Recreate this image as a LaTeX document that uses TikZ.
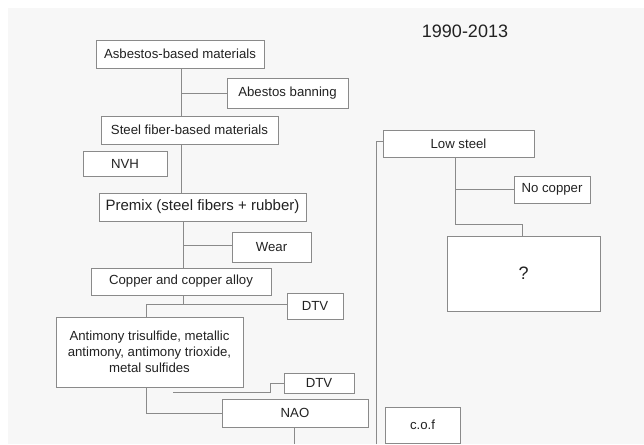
\documentclass[tikz,border=0pt]{standalone}
\usepackage{fontspec}
\setmainfont{Liberation Sans}
\definecolor{bg}{HTML}{F7F7F7}
\definecolor{ln}{HTML}{8A8A8A}
\definecolor{tx}{HTML}{222222}
\begin{document}
\begin{tikzpicture}[x=1pt,y=-1pt,
  box/.style={draw=ln, fill=white, line width=0.9pt, inner sep=0pt, text=tx,
    font=\fontsize{13.2}{16}\selectfont, align=center},
  wire/.style={draw=ln, line width=0.9pt}]
\useasboundingbox (0,0) rectangle (644,444);
\fill[white] (0,0) rectangle (644,444);
\fill[bg] (8,8) rectangle (644,444);

\node[text=tx, font=\fontsize{18}{20}\selectfont] (title) at (465,31) {1990-2013};

\node[box, minimum width=168pt, minimum height=28pt] (asb) at (180,54) {Asbestos-based materials};
\node[box, minimum width=121pt, minimum height=30pt] (ban) at (287.5,93) {Abestos banning};
\node[box, minimum width=177pt, minimum height=28pt] (steel) at (189.5,130) {Steel fiber-based materials};
\node[box, minimum width=84pt, minimum height=25pt] (nvh) at (125,163.5) {NVH};
\node[box, minimum width=207pt, minimum height=28pt, font=\fontsize{15}{18}\selectfont] (premix) at (202.5,207) {Premix (steel fibers + rubber)};
\node[box, minimum width=79pt, minimum height=30pt] (wear) at (271.5,247) {Wear};
\node[box, minimum width=180pt, minimum height=27pt] (copper) at (181,281.5) {Copper and copper alloy};
\node[box, minimum width=56pt, minimum height=26pt] (dtva) at (315,306) {DTV};
\node[box, minimum width=187pt, minimum height=70pt] (anti) at (149.5,352) {Antimony trisulfide, metallic\\antimony, antimony trioxide,\\metal sulfides};
\node[box, minimum width=70pt, minimum height=20pt] (dtvb) at (319,383) {DTV};
\node[box, minimum width=146pt, minimum height=28pt] (nao) at (295,413) {NAO};
\node[box, minimum width=151pt, minimum height=27pt] (low) at (458.5,143.5) {Low steel};
\node[box, minimum width=76pt, minimum height=27pt] (nocu) at (552,189.5) {No copper};
\node[box, minimum width=153pt, minimum height=75pt, font=\fontsize{18}{20}\selectfont] (q) at (523.5,273.5) {?};
\node[box, minimum width=75pt, minimum height=36pt] (cof) at (422.5,425) {c.o.f};

\coordinate (tA) at (181,0);
\coordinate (tB) at (183,0);
\coordinate (j1) at (183,304);
\coordinate (j2) at (146,304);
\coordinate (k1) at (173,392);
\coordinate (k2) at (270,392);
\coordinate (nb) at (294,444);
\coordinate (lb) at (376,444);
\coordinate (m) at (455,0);
\coordinate (m2) at (522,224);

\draw[wire] (asb.south -| tA) -- (steel.north -| tA);
\draw[wire] (ban.west -| tA) -- (ban.west);
\draw[wire] (steel.south -| tA) -- (premix.north -| tA);
\draw[wire] (premix.south -| tB) -- (copper.north -| tB);
\draw[wire] ([yshift=2pt]wear.west -| tB) -- ([yshift=2pt]wear.west);
\draw[wire] (copper.south -| j1) -- (j1);
\draw[wire] (anti.north -| j2) |- (dtva.west |- j1);
\draw[wire] (k1) -- (k2) |- (dtvb.west);
\draw[wire] (anti.south -| j2) |- (nao.west);
\draw[wire] (nao.south -| nb) -- (nb);
\draw[wire] (lb) |- ([yshift=2.5pt]low.west);
\draw[wire] (low.south -| m) |- (m2) -- (q.north -| m2);
\draw[wire] (nocu.west -| m) -- (nocu.west);
\end{tikzpicture}
\end{document}
